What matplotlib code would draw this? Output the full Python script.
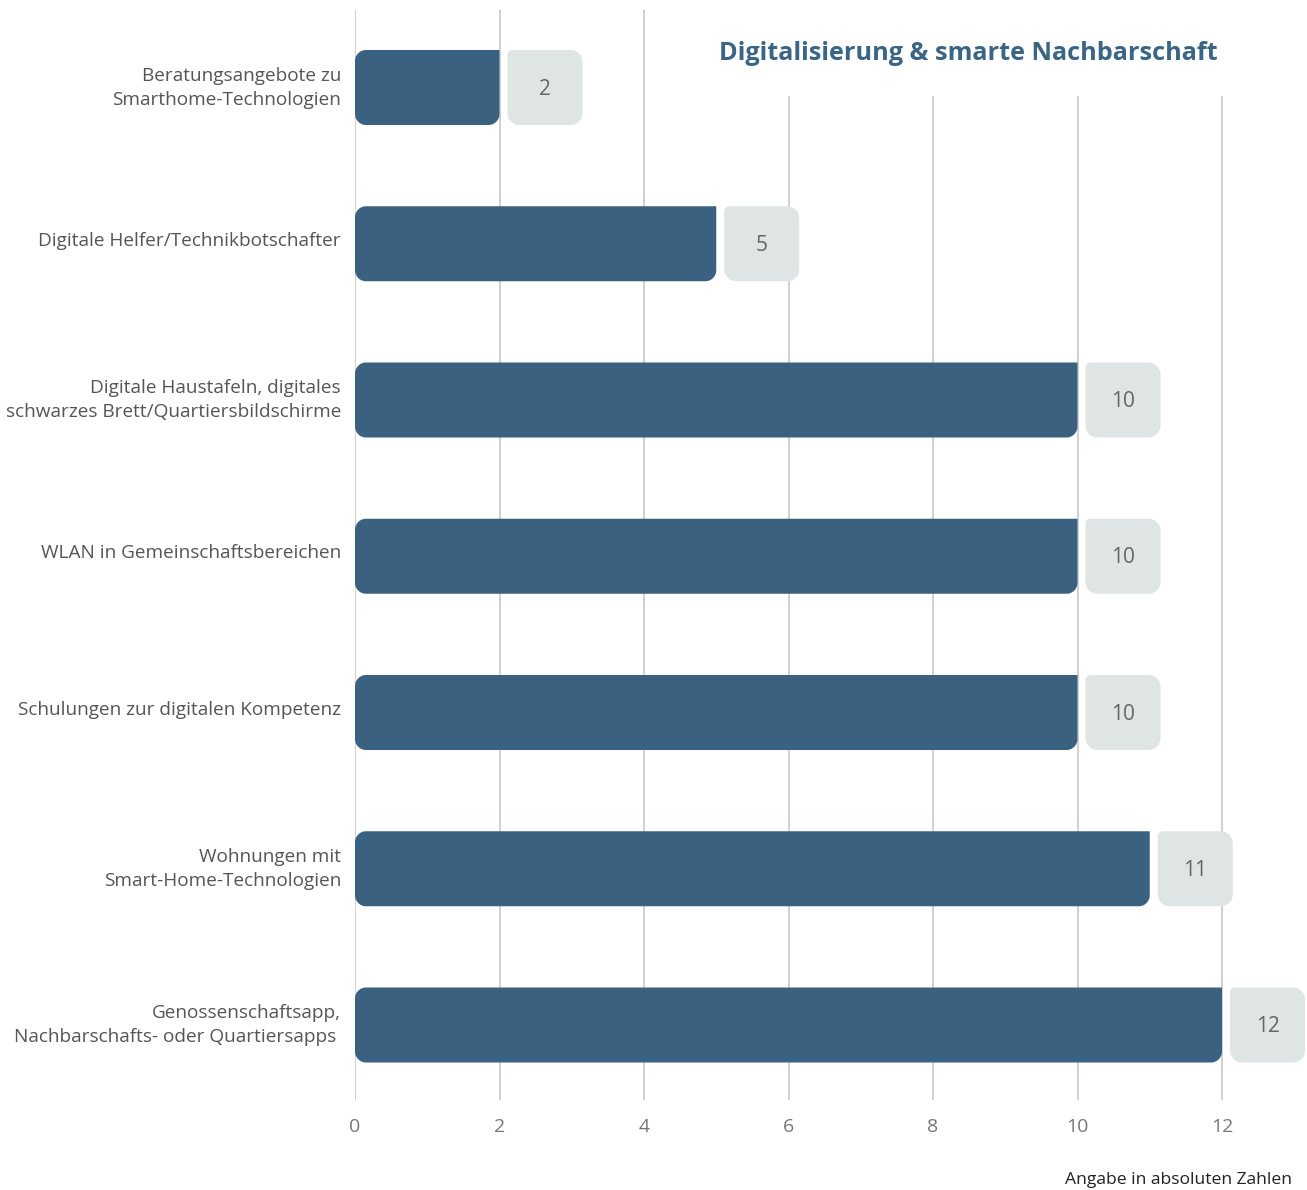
import matplotlib.pyplot as plt
from matplotlib.path import Path
from matplotlib.patches import PathPatch

plt.rcParams['font.family'] = ['Open Sans', 'DejaVu Sans']

categories = [
    "Beratungsangebote zu\nSmarthome-Technologien",
    "Digitale Helfer/Technikbotschafter",
    "Digitale Haustafeln, digitales\nschwarzes Brett/Quartiersbildschirme",
    "WLAN in Gemeinschaftsbereichen",
    "Schulungen zur digitalen Kompetenz",
    "Wohnungen mit\nSmart-Home-Technologien",
    "Genossenschaftsapp,\nNachbarschafts- oder Quartiersapps ",
]
values = [2, 5, 10, 10, 10, 11, 12]
xticks = [0, 2, 4, 6, 8, 10, 12]

bar_color = '#3a6180'
box_color = '#dfe4e4'
grid_color = '#c8c8c8'

W, H = 1307, 1190
fig = plt.figure(figsize=(W / 100, H / 100), dpi=100)
# axes: x=0 at px 355, x=12 at px 1222 ; top px 10, bottom px 1100
left_px, top_px, bottom_px = 355, 10, 1100
ax = fig.add_axes([left_px / W, 1 - bottom_px / H, (W - left_px) / W, (bottom_px - top_px) / H])
px_x = (1222 - 355) / 12.0
px_y = 156.25
ax.set_xlim(0, (W - left_px) / px_x)
ax.set_ylim((bottom_px - 87.5) / px_y, (top_px - 87.5) / px_y)

bar_h = 75 / px_y


def rounded(x0, x1, yc, h, r):
    # r = (tl, tr, br, bl) in pixels, display-oriented (y axis inverted)
    k = 0.5523
    yt, yb = yc - h / 2, yc + h / 2
    rx = [v / px_x for v in r]
    ry = [v / px_y for v in r]
    verts = [(x0 + rx[0], yt), (x1 - rx[1], yt),
             (x1 - rx[1] + k * rx[1], yt), (x1, yt + ry[1] - k * ry[1]), (x1, yt + ry[1]),
             (x1, yb - ry[2]),
             (x1, yb - ry[2] + k * ry[2]), (x1 - rx[2] + k * rx[2], yb), (x1 - rx[2], yb),
             (x0 + rx[3], yb),
             (x0 + rx[3] - k * rx[3], yb), (x0, yb - ry[3] + k * ry[3]), (x0, yb - ry[3]),
             (x0, yt + ry[0]),
             (x0, yt + ry[0] - k * ry[0]), (x0 + rx[0] - k * rx[0], yt), (x0 + rx[0], yt),
             (x0 + rx[0], yt)]
    codes = [Path.MOVETO, Path.LINETO,
             Path.CURVE4, Path.CURVE4, Path.CURVE4,
             Path.LINETO,
             Path.CURVE4, Path.CURVE4, Path.CURVE4,
             Path.LINETO,
             Path.CURVE4, Path.CURVE4, Path.CURVE4,
             Path.LINETO,
             Path.CURVE4, Path.CURVE4, Path.CURVE4,
             Path.CLOSEPOLY]
    return Path(verts, codes)


# gridlines
y_lo, y_hi = ax.get_ylim()
for x in xticks:
    start = y_hi if x <= 4 else (97 - 87.5) / px_y
    ax.plot([x, x], [start, y_lo], color=grid_color, lw=1.2, zorder=0)

for i, v in enumerate(values):
    ax.add_patch(PathPatch(rounded(0, v, i, bar_h, (11, 0, 11, 11)),
                           facecolor=bar_color, edgecolor='none', zorder=2))
    bx0 = v + 8 / px_x
    bx1 = bx0 + 75 / px_x
    ax.add_patch(PathPatch(rounded(bx0, bx1, i, bar_h, (5, 12, 12, 12)),
                           facecolor=box_color, edgecolor='none', zorder=2))
    ax.text((bx0 + bx1) / 2, i + 0.01, str(v), ha='center', va='center',
            fontsize=15, color='#666666', zorder=3)

# category labels sit a few pixels above the bar centre
ax.set_yticks([i - 5 / px_y for i in range(len(categories))])
ax.set_yticklabels(categories, fontsize=13.7, color='#555555', linespacing=1.45)
ax.set_xticks(xticks)
ax.set_xticklabels([str(x) for x in xticks], fontsize=14, color='#777777')
ax.tick_params(length=0)
ax.tick_params(axis='y', pad=10)
ax.tick_params(axis='x', pad=13)
for s in ax.spines.values():
    s.set_visible(False)

fig.text(1218 / W, 1 - 54 / H, "Digitalisierung & smarte Nachbarschaft",
         ha='right', va='center', fontsize=18.2, fontweight='bold', color='#3a6584')
fig.text(1292 / W, 1 - 1180 / H, "Angabe in absoluten Zahlen",
         ha='right', va='center', fontsize=12.6, color='#222222')

fig.savefig('out.png', dpi=100)
